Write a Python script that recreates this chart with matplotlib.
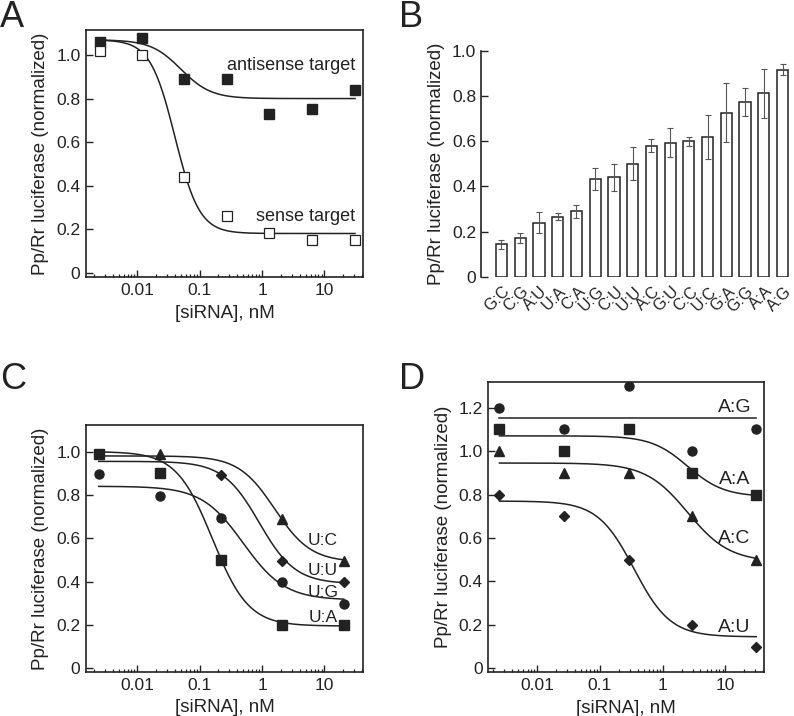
import numpy as np
import matplotlib
matplotlib.use("Agg")
import matplotlib.pyplot as plt
from matplotlib.ticker import LogLocator, FixedLocator, NullFormatter

plt.rcParams['font.family'] = ['Liberation Sans', 'DejaVu Sans']
plt.rcParams['text.color'] = '#222222'
plt.rcParams['axes.labelcolor'] = '#222222'
plt.rcParams['xtick.color'] = '#222222'
plt.rcParams['ytick.color'] = '#222222'

# ---- panel A data ----
a_conc = [0.0025, 0.012, 0.057, 0.27, 1.3, 6.3, 31]
a_antisense = [1.06, 1.08, 0.89, 0.89, 0.73, 0.75, 0.84]
a_sense = [1.02, 1.00, 0.44, 0.26, 0.18, 0.15, 0.15]
# fit params: top, bottom, ec50, hill
a_fit_antisense = (1.07, 0.80, 0.05, 1.8)
a_fit_sense = (1.07, 0.18, 0.04, 2.2)

# ---- panel B data ----
b_pairs = ['G:C', 'C:G', 'A:U', 'U:A', 'C:A', 'U:G', 'C:U', 'U:U',
           'A:C', 'G:U', 'C:C', 'U:C', 'G:A', 'G:G', 'A:A', 'A:G']
b_values = [0.143, 0.173, 0.239, 0.265, 0.289, 0.432, 0.44, 0.50,
            0.58, 0.593, 0.599, 0.617, 0.726, 0.773, 0.811, 0.916]
b_errors = [0.02, 0.022, 0.046, 0.015, 0.03, 0.05, 0.06, 0.072,
            0.028, 0.063, 0.02, 0.097, 0.13, 0.062, 0.11, 0.024]

# ---- panel C data ----
c_conc = [0.0024, 0.023, 0.22, 2.1, 20.5]
c_ua = [0.99, 0.90, 0.50, 0.20, 0.20]
c_ug = [0.895, 0.795, 0.695, 0.397, 0.297]
c_uu_conc = [0.22, 2.1, 20.5]
c_uu = [0.89, 0.497, 0.397]
c_uc_conc = [0.023, 2.1, 20.5]
c_uc = [0.99, 0.69, 0.495]
c_fits = {'U:C': (0.98, 0.49, 1.6, 1.5),
          'U:U': (0.955, 0.39, 0.9, 1.5),
          'U:G': (0.84, 0.315, 0.5, 1.3),
          'U:A': (1.0, 0.195, 0.16, 1.5)}
c_label_y = {'U:C': 0.59, 'U:U': 0.45, 'U:G': 0.35, 'U:A': 0.235}

# ---- panel D data ----
d_conc = [0.0025, 0.027, 0.29, 2.9, 31]
d_ag = [1.2, 1.1, 1.3, 1.0, 1.1]
d_aa = [1.1, 1.0, 1.1, 0.9, 0.8]
d_ac = [1.0, 0.9, 0.9, 0.7, 0.5]
d_au = [0.8, 0.7, 0.5, 0.2, 0.1]
d_fits = {'A:G': (1.15, 1.15, 1.0, 1.0),
          'A:A': (1.07, 0.79, 2.5, 1.5),
          'A:C': (0.945, 0.49, 2.5, 1.3),
          'A:U': (0.77, 0.145, 0.35, 1.5)}
d_label_y = {'A:G': 1.2, 'A:A': 0.867, 'A:C': 0.598, 'A:U': 0.19}

INK = '#222222'
YLABEL = 'Pp/Rr luciferase (normalized)'
XLABEL = '[siRNA], nM'


def logistic(x, top, bottom, ec50, hill):
    return bottom + (top - bottom) / (1 + (x / ec50) ** hill)


def draw_fit(ax, params, x0, x1):
    xs = np.logspace(np.log10(x0), np.log10(x1), 300)
    ax.plot(xs, logistic(xs, *params), color=INK, lw=1.1, zorder=2)


def style_log_axes(ax, xlim, ylim, yticks):
    ax.set_xscale('log')
    ax.set_xlim(*xlim)
    ax.set_ylim(*ylim)
    ax.set_xticks([0.01, 0.1, 1, 10])
    ax.set_xticklabels(['0.01', '0.1', '1', '10'])
    ax.xaxis.set_minor_locator(LogLocator(base=10, subs=np.arange(2, 10)))
    ax.xaxis.set_minor_formatter(NullFormatter())
    ax.set_yticks(yticks)
    ax.set_yticklabels(['0' if v == 0 else '%.1f' % v for v in yticks])
    ax.yaxis.set_minor_locator(FixedLocator([]))
    ax.tick_params(axis='both', which='major', direction='in', length=5,
                   width=1.0, labelsize=12.5, pad=4)
    ax.tick_params(axis='x', which='minor', direction='in', length=2.5,
                   width=0.9)
    ax.tick_params(top=False, right=False, which='both')
    for s in ax.spines.values():
        s.set_linewidth(1.2)
        s.set_color(INK)
    ax.set_xlabel(XLABEL, fontsize=13.5, labelpad=5)
    ax.set_ylabel(YLABEL, fontsize=13.5, labelpad=5)


fig = plt.figure(figsize=(7.94, 7.16), dpi=100)

# ---------------- A ----------------
axA = fig.add_axes([0.1083, 0.6131, 0.3489, 0.345])
draw_fit(axA, a_fit_antisense, a_conc[0], a_conc[-1])
draw_fit(axA, a_fit_sense, a_conc[0], a_conc[-1])
axA.plot(a_conc, a_antisense, 's', ms=6.5, color=INK, mec=INK, zorder=3)
axA.plot(a_conc, a_sense, 's', ms=6.5, mfc='white', mec=INK, mew=0.9, zorder=3)
axA.text(31, 0.95, 'antisense target', ha='right', va='center', fontsize=13)
axA.text(31, 0.26, 'sense target', ha='right', va='center', fontsize=13)
style_log_axes(axA, (0.0015, 41.7), (-0.02, 1.115), [0, 0.2, 0.4, 0.6, 0.8, 1.0])

# ---------------- B ----------------
axB = fig.add_axes([0.6058, 0.6135, 0.394, 0.3156])
xb = np.arange(len(b_pairs))
axB.bar(xb, b_values, width=0.6, color='white', edgecolor=INK, linewidth=1.1,
        zorder=2)
axB.errorbar(xb, b_values, yerr=b_errors, fmt='none', ecolor='#555555',
             elinewidth=0.8, capsize=2.2, capthick=0.8, zorder=3)
axB.set_xlim(-1.09, 15.6)
axB.set_ylim(0, 1.0)
axB.set_xticks(xb + 0.05)
axB.set_xticklabels(b_pairs, rotation=45, ha='right', rotation_mode='anchor',
                    fontsize=11.5)
axB.set_yticks([0, 0.2, 0.4, 0.6, 0.8, 1.0])
axB.set_yticklabels(['0', '0.2', '0.4', '0.6', '0.8', '1.0'])
axB.tick_params(axis='x', length=0, pad=5)
axB.tick_params(axis='y', direction='in', length=5, width=1.0, labelsize=12.5)
for side in ['top', 'right', 'bottom']:
    axB.spines[side].set_visible(False)
axB.spines['left'].set_linewidth(1.2)
axB.spines['left'].set_color(INK)
axB.set_ylabel(YLABEL, fontsize=13.5, labelpad=5)

# ---------------- C ----------------
axC = fig.add_axes([0.1083, 0.0615, 0.3489, 0.345])
for name, params in c_fits.items():
    draw_fit(axC, params, c_conc[0], c_conc[-1])
axC.plot(c_conc, c_ug, 'o', ms=6.5, color=INK, zorder=3)
axC.plot(c_conc, c_ua, 's', ms=6.5, color=INK, zorder=3)
axC.plot(c_uu_conc, c_uu, 'D', ms=5, color=INK, zorder=3)
axC.plot(c_uc_conc, c_uc, '^', ms=7, color=INK, zorder=3)
for name, yv in c_label_y.items():
    axC.text(9.5, yv, name, ha='center', va='center', fontsize=12.5)
style_log_axes(axC, (0.0015, 41.7), (-0.017, 1.123), [0, 0.2, 0.4, 0.6, 0.8, 1.0])

# ---------------- D ----------------
axD = fig.add_axes([0.615, 0.0611, 0.3476, 0.406])
for name, params in d_fits.items():
    draw_fit(axD, params, d_conc[0], d_conc[-1])
axD.plot(d_conc, d_ag, 'o', ms=6.5, color=INK, zorder=3)
axD.plot(d_conc, d_aa, 's', ms=6.5, color=INK, zorder=3)
axD.plot(d_conc, d_ac, '^', ms=7, color=INK, zorder=3)
axD.plot(d_conc, d_au, 'D', ms=5, color=INK, zorder=3)
for name, yv in d_label_y.items():
    axD.text(14, yv, name, ha='center', va='center', fontsize=14)
style_log_axes(axD, (0.00166, 41.7), (-0.018, 1.32), [0, 0.2, 0.4, 0.6, 0.8, 1.0, 1.2])

# panel letters
for lbl, x, y in [('A', 0.0, 1.0), ('B', 0.503, 1.0),
                  ('C', 0.0, 0.494), ('D', 0.503, 0.494)]:
    fig.text(x, y, lbl, fontsize=26, ha='left', va='top')

fig.savefig('out.png', dpi=100)
